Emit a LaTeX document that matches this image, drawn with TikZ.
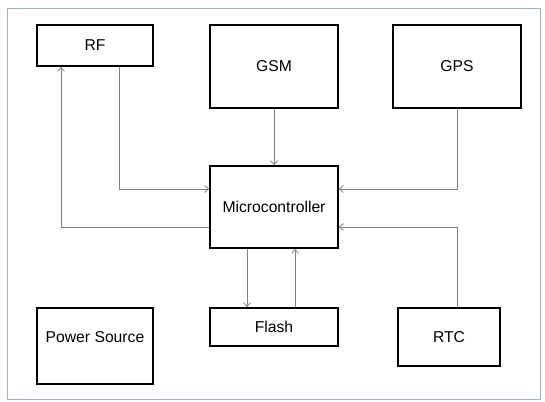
\documentclass[tikz,border=0pt]{standalone}
\usepackage{fontspec}
\setmainfont{Liberation Sans}
\usetikzlibrary{arrows.meta}
\definecolor{framecol}{RGB}{160,176,190}
\definecolor{linkcol}{RGB}{128,128,128}
\begin{document}
\begin{tikzpicture}[x=1pt, y=-1pt, font=\fontsize{15.7}{18}\selectfont,
                    main/.style = {draw, line width=1.6pt, inner sep=0pt, align=center},
                    link/.style = {draw=linkcol, line width=0.8pt, -{Straight Barb[length=4pt,width=7pt]}}]
                    \useasboundingbox (0,0) rectangle (545,401);
                    \draw[framecol, line width=1pt] (7,9) rectangle (540,399);
                    \node[main, minimum width=116pt, minimum height=41pt] (rf) at (95,45.5) {RF};
                    \node[main, minimum width=128pt, minimum height=83pt] (gsm) at (274,66.5) {GSM};
                    \node[main, minimum width=128pt, minimum height=83pt] (gps) at (457,66.5) {GPS};
                    \node[main, minimum width=128pt, minimum height=82pt] (mcu) at (274,207) {Microcontroller};
                    \node[main, minimum width=128pt, minimum height=38pt] (flash) at (274,327) {Flash};
                    \node[main, minimum width=116pt, minimum height=76pt, text depth=18pt] (power) at (95,346) {Power Source};
                    \node[main, minimum width=102pt, minimum height=58pt] (rtc) at (449,337) {RTC};
                    \draw[link] ([xshift=24pt]rf.south) |- ([yshift=18pt]mcu.west);
                    \draw[link] ([yshift=-20pt]mcu.west) -| ([xshift=-34pt]rf.south);
                    \draw[link] (gsm) -- (mcu);
                    \draw[link] (gps.south) |- ([yshift=18pt]mcu.east);
                    \draw[link] ([xshift=8pt]rtc.north) |- ([yshift=-20pt]mcu.east);
                    \draw[link] ([xshift=-27pt]mcu.south) -- ([xshift=-27pt]flash.north);
                    \draw[link] ([xshift=21pt]flash.north) -- ([xshift=21pt]mcu.south);
                \end{tikzpicture}
\end{document}
